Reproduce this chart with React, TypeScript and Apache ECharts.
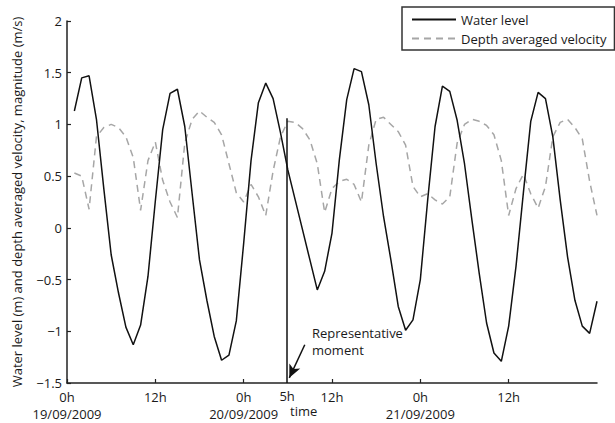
import React, { useEffect, useRef } from "react";
import * as echarts from "echarts";

// Hourly samples, starting at hour 1 (19/09/2009 01:00)
const START_HOUR = 1;
const waterLevel = [
  1.13, 1.45, 1.47, 1.05, 0.38, -0.26, -0.63, -0.96, -1.13, -0.94,
  -0.47, 0.26, 0.95, 1.30, 1.34, 0.98, 0.33, -0.31, -0.70, -1.05,
  -1.28, -1.23, -0.90, -0.15, 0.65, 1.21, 1.40, 1.25, 0.92, 0.56,
  0.27, -0.02, -0.31, -0.60, -0.42, -0.05, 0.66, 1.24, 1.54, 1.51,
  1.19, 0.62, 0.11, -0.31, -0.76, -0.99, -0.89, -0.50, 0.27, 0.98,
  1.37, 1.32, 1.04, 0.62, 0.08, -0.44, -0.92, -1.21, -1.29, -0.95,
  -0.37, 0.34, 1.03, 1.31, 1.25, 0.88, 0.27, -0.28, -0.70, -0.95,
  -1.02, -0.71,
];
const velocity = [
  0.53, 0.50, 0.18, 0.88, 0.97, 1.00, 0.97, 0.88, 0.68, 0.17,
  0.65, 0.83, 0.46, 0.25, 0.10, 0.82, 1.05, 1.13, 1.07, 1.02,
  0.90, 0.62, 0.34, 0.25, 0.42, 0.30, 0.12, 0.55, 0.88, 1.03,
  1.02, 0.96, 0.85, 0.62, 0.15, 0.38, 0.45, 0.47, 0.42, 0.25,
  0.80, 1.05, 1.07, 1.00, 0.93, 0.80, 0.40, 0.30, 0.33, 0.27,
  0.23, 0.30, 0.82, 1.00, 1.05, 1.03, 0.99, 0.90, 0.65, 0.12,
  0.38, 0.52, 0.33, 0.19, 0.40, 0.88, 1.02, 1.05, 0.97, 0.86,
  0.45, 0.12,
];

const tickHours = [0, 12, 24, 36, 48, 60];
const tickLabels = ["0h\n19/09/2009", "12h", "0h\n20/09/2009", "12h", "0h\n21/09/2009", "12h"];

const momentHour = 29.9;
const momentTop = 1.06;
const arrowFrom = [32.3, -1.13];
const arrowTo = [30.2, -1.45];

const FONT = "Open Sans";
const TXT = "#1a1a1a";

export default function App() {
  const ref = useRef<HTMLDivElement>(null);
  useEffect(() => {
    if (!ref.current) return;
    const chart = echarts.init(ref.current, undefined, { renderer: "svg" });
    const wl = waterLevel.map((v, i) => [START_HOUR + i, v]);
    const vel = velocity.map((v, i) => [START_HOUR + i, v]);
    chart.setOption({
      animation: false,
      textStyle: { fontFamily: FONT },
      grid: { left: 67, right: 18, top: 21, bottom: 40 },
      legend: {
        left: 402,
        top: 7,
        orient: "vertical",
        itemWidth: 44,
        itemHeight: 14,
        itemGap: 6,
        padding: [6, 8, 5, 9],
        borderColor: "#333",
        borderWidth: 1.5,
        borderRadius: 0,
        backgroundColor: "#fff",
        itemStyle: { opacity: 0 },
        textStyle: { fontFamily: FONT, fontSize: 13, color: TXT },
        data: ["Water level", "Depth averaged velocity"],
      },
      xAxis: {
        type: "value",
        min: 0,
        max: 72,
        interval: 12,
        splitLine: { show: false },
        axisLine: { onZero: false, lineStyle: { color: "#222", width: 1.5 } },
        axisTick: { inside: true, length: 4, lineStyle: { color: "#222", width: 1.2 } },
        axisLabel: {
          color: TXT,
          fontSize: 13,
          fontFamily: FONT,
          margin: 5,
          lineHeight: 17,
          showMaxLabel: false,
          formatter: (v: number) => {
            const i = tickHours.indexOf(v);
            return i >= 0 ? tickLabels[i] : "";
          },
        },
      },
      yAxis: {
        type: "value",
        min: -1.5,
        max: 2,
        interval: 0.5,
        splitLine: { show: false },
        axisLine: { show: true, onZero: false, lineStyle: { color: "#222", width: 1.5 } },
        axisTick: { show: true, inside: true, length: 4, lineStyle: { color: "#222", width: 1.2 } },
        axisLabel: {
          color: TXT,
          fontSize: 13,
          fontFamily: FONT,
          margin: 5,
          formatter: (v: number) => String(v).replace("-", "\u2212"),
        },
        name: "Water level (m) and depth averaged velocity, magnitude (m/s)",
        nameLocation: "middle",
        nameGap: 44,
        nameTextStyle: { color: TXT, fontSize: 13, fontFamily: FONT },
      },
      series: [
        {
          name: "Water level",
          type: "line",
          data: wl,
          symbol: "none",
          lineStyle: { color: "#111", width: 1.5 },
          itemStyle: { color: "#111" },
          z: 3,
          markLine: {
            silent: true,
            symbol: ["none", "none"],
            animation: false,
            label: { show: false },
            data: [
              [
                {
                  coord: [momentHour, -1.5],
                  lineStyle: { color: "#111", width: 1.5, type: "solid" },
                  label: {
                    show: true,
                    position: "start",
                    formatter: "5h",
                    distance: 6,
                    color: TXT,
                    fontSize: 13,
                    fontFamily: FONT,
                  },
                },
                { coord: [momentHour, momentTop] },
              ],
              [
                {
                  coord: arrowFrom,
                  lineStyle: { color: "#111", width: 1.5, type: "solid" },
                  label: { show: false },
                },
                { coord: arrowTo, symbol: "arrow", symbolSize: [9, 13] },
              ],
            ],
          },
        },
        {
          name: "Depth averaged velocity",
          type: "line",
          data: vel,
          symbol: "none",
          lineStyle: { color: "#a6a6a6", width: 1.5, type: [7, 5] },
          itemStyle: { color: "#a6a6a6" },
          z: 2,
        },
      ],
      graphic: [
        {
          type: "text",
          left: 312,
          top: 326,
          style: { text: "Representative", font: `13px "${FONT}"`, fill: TXT },
        },
        {
          type: "text",
          left: 312,
          top: 343,
          style: { text: "moment", font: `13px "${FONT}"`, fill: TXT },
        },
        {
          type: "text",
          left: 290,
          top: 404,
          style: { text: "time", font: `13px "${FONT}"`, fill: TXT },
        },
      ],
    });
    return () => chart.dispose();
  }, []);
  return <div ref={ref} style={{ width: 615, height: 423, position: "absolute", left: 0, top: 0 }} />;
}
